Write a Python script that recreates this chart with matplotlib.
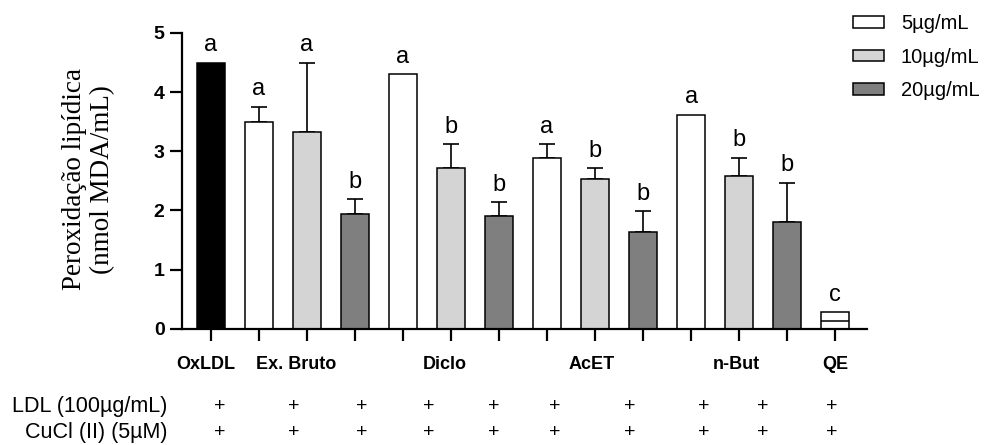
import matplotlib
matplotlib.use("Agg")
import matplotlib.pyplot as plt
import matplotlib.transforms as mtransforms
from matplotlib.patches import Patch

# =========================
# DATA
# =========================
bar_values = [4.50, 3.50, 3.32, 1.94, 4.30, 2.71, 1.91, 2.89, 2.54, 1.63, 3.62, 2.59, 1.81, 0.28]
bar_errors = [0.00, 0.25, 1.18, 0.25, 0.00, 0.41, 0.23, 0.23, 0.17, 0.36, 0.00, 0.30, 0.66, 0.00]
bar_letters = ["a", "a", "a", "b", "a", "b", "b", "a", "b", "b", "a", "b", "b", "c"]
# concentration of each bar: 0 = control, 5 / 10 / 20 ug/mL
bar_dose = [0, 5, 10, 20, 5, 10, 20, 5, 10, 20, 5, 10, 20, 5]
qe_inner = 0.14

group_labels = ["OxLDL", "Ex. Bruto", "Diclo", "AcET", "n-But", "QE"]
group_label_pos = [-0.1, 1.77, 4.87, 7.94, 10.94, 13.0]

row_labels = ["LDL (100µg/mL)", "CuCl (II) (5µM)"]
plus_pos = [0.19, 1.73, 3.15, 4.54, 5.9, 7.17, 8.73, 10.27, 11.5, 12.92]

legend_labels = ["5µg/mL", "10µg/mL", "20µg/mL"]

# =========================
# STYLE
# =========================
dose_colors = {0: "black", 5: "white", 10: "#d4d4d4", 20: "#7f7f7f"}
plt.rcParams["font.family"] = ["Liberation Sans", "DejaVu Sans"]

fig = plt.figure(figsize=(9.89, 4.45), dpi=100)
ax = fig.add_axes([0.184, 0.261, 0.693, 0.665])

x = list(range(len(bar_values)))
colors = [dose_colors[d] for d in bar_dose]

bars = ax.bar(x, bar_values, width=0.59, color=colors, edgecolor="black",
              linewidth=1.1, zorder=2)

# upward error bars only
for xi, v, e in zip(x, bar_values, bar_errors):
    if e > 0:
        ax.errorbar(xi, v, yerr=[[0], [e]], fmt="none", ecolor="black",
                    elinewidth=1.2, capsize=6, capthick=1.2, zorder=1)

# inner line of QE bar
qe_bar = bars[-1]
ax.hlines(qe_inner, qe_bar.get_x(), qe_bar.get_x() + qe_bar.get_width(),
          color="black", linewidth=1.1, zorder=3)

# significance letters
for xi, v, e, lt in zip(x, bar_values, bar_errors, bar_letters):
    ax.text(xi, v + e + 0.11, lt, ha="center", va="bottom", fontsize=17)

# axes
ax.set_xlim(-0.6, 13.67)
ax.set_ylim(0, 5)
ax.set_yticks([0, 1, 2, 3, 4, 5])
ax.set_xticks(x)
ax.set_xticklabels([])
for s in ["top", "right"]:
    ax.spines[s].set_visible(False)
for s in ["left", "bottom"]:
    ax.spines[s].set_linewidth(1.6)
ax.tick_params(axis="both", direction="out", length=8.5, width=1.6, pad=4)
for lab in ax.get_yticklabels():
    lab.set_fontweight("bold")
    lab.set_fontsize(14)

trans = mtransforms.blended_transform_factory(ax.transData, ax.transAxes)
for pos, lab in zip(group_label_pos, group_labels):
    ax.text(pos, -0.122, lab, transform=trans, ha="center", va="center",
            fontsize=13, fontweight="bold")

row_y = [-0.264, -0.351]
for ry, lab in zip(row_y, row_labels):
    fig.text(0.169, ax.get_position().y0 + ry * ax.get_position().height, lab,
             ha="right", va="center", fontsize=15.5)
    for p in plus_pos:
        ax.text(p, ry, "+", transform=trans, ha="center", va="center", fontsize=14)

fig.text(0.0895, 0.597, "Peroxidação lipídica\n(nmol MDA/mL)", rotation=90,
         ha="center", va="center", fontsize=19.5, family="Liberation Serif",
         linespacing=1.15)

handles = [Patch(facecolor=dose_colors[d], edgecolor="black", linewidth=1.1)
           for d in (5, 10, 20)]
fig.legend(handles, legend_labels, loc="upper left", bbox_to_anchor=(0.862, 0.968),
           frameon=False, fontsize=14.5, handlelength=1.55, handleheight=0.5,
           handletextpad=0.85, labelspacing=0.72, borderpad=0, borderaxespad=0)

fig.savefig("out.png", dpi=100)
